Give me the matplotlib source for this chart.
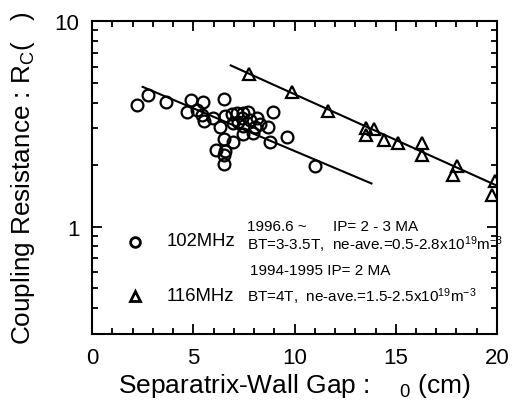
#!/usr/bin/env python3
import matplotlib
matplotlib.use("Agg")
import matplotlib.pyplot as plt

# 102 MHz data (circles)
gap_102 = [2.2, 2.75, 3.65, 4.89, 5.5, 4.68, 5.17, 5.42, 5.53, 5.99, 6.32,
           6.53, 6.57, 6.52, 6.12, 6.57, 6.53, 6.53, 6.95, 6.9, 7.14, 7.44,
           7.72, 6.98, 7.23, 7.47, 7.39, 7.8, 8.13, 8.05, 8.3, 7.97, 7.47,
           8.71, 8.92, 8.79, 9.61, 11.0]
rc_102 = [3.90, 4.36, 4.02, 4.12, 4.05, 3.59, 3.69, 3.49, 3.26, 3.36, 3.06,
          4.15, 3.46, 2.67, 2.36, 2.32, 2.23, 2.02, 2.59, 3.51, 3.55, 3.55,
          3.59, 3.18, 3.24, 3.10, 3.36, 3.30, 3.36, 3.06, 3.15, 2.84, 2.81,
          3.06, 3.59, 2.57, 2.74, 1.98]

# 116 MHz data (triangles)
gap_116 = [7.77, 9.86, 11.67, 13.53, 13.53, 13.93, 14.44, 15.1, 16.31,
           16.31, 18.01, 17.85, 19.9, 19.74]
rc_116 = [5.55, 4.52, 3.65, 3.01, 2.79, 2.99, 2.64, 2.55, 2.55, 2.22, 1.96,
          1.79, 1.67, 1.42]

# fitted lines (end points)
fit_102_x = [2.5, 13.8]
fit_102_y = [4.78, 1.62]
fit_116_x = [6.85, 20.0]
fit_116_y = [6.08, 1.58]

xticks = [0, 5, 10, 15, 20]
yticks = [1, 10]
yticklabels = ["1", "10"]


def main():
    plt.rcParams["font.family"] = ["Liberation Sans", "DejaVu Sans"]
    plt.rcParams["mathtext.fontset"] = "custom"
    plt.rcParams["mathtext.rm"] = "Liberation Sans"
    plt.rcParams["mathtext.default"] = "regular"

    fig = plt.figure(figsize=(5.12, 4.14), dpi=100)
    ax = fig.add_axes([0.1797, 0.1908, 0.791, 0.7561])

    ax.plot(gap_102, rc_102, "o", mfc="none", mec="black", ms=8.5, mew=1.6)
    ax.plot(gap_116, rc_116, "^", mfc="none", mec="black", ms=9, mew=1.6)
    ax.plot(fit_102_x, fit_102_y, color="black", lw=1.5)
    ax.plot(fit_116_x, fit_116_y, color="black", lw=1.5)

    ax.set_yscale("log")
    ax.set_xlim(0, 20)
    ax.set_ylim(0.3, 10)
    ax.set_xticks(xticks)
    ax.set_xticks(range(0, 21), minor=True)
    ax.set_yticks(yticks)
    ax.set_yticklabels(yticklabels)

    for s in ax.spines.values():
        s.set_linewidth(1.5)
    ax.tick_params(which="both", direction="in", top=True, right=True,
                   width=1.3, labelsize=16)
    ax.tick_params(which="major", length=7)
    ax.tick_params(which="minor", length=4, labelleft=False)
    ax.tick_params(axis="x", pad=9)
    ax.tick_params(axis="y", pad=9)

    ax.set_xlabel("Separatrix-Wall Gap :    $_0$ (cm)", fontsize=19)
    ax.set_ylabel("Coupling Resistance : R$_C$(   )", fontsize=18.8)
    ax.xaxis.set_label_coords(0.5, -0.118)
    ax.yaxis.set_label_coords(-0.135, 0.5)

    # legend-like annotations
    tr = ax.transAxes
    ax.plot([0.106], [0.295], "o", transform=tr, mfc="none", mec="black",
            ms=7, mew=2, clip_on=False)
    ax.plot([0.106], [0.122], "^", transform=tr, mfc="none", mec="black",
            ms=7, mew=2, clip_on=False)
    ax.text(0.185, 0.298, "102MHz", transform=tr, fontsize=13.3, va="center")
    ax.text(0.185, 0.122, "116MHz", transform=tr, fontsize=13.3, va="center")
    small = dict(transform=tr, fontsize=11, va="center")
    ax.text(0.383, 0.345, "1996.6 ~", **small)
    ax.text(0.595, 0.345, "IP= 2 - 3 MA", **small)
    ax.text(0.383, 0.29,
            "BT=3-3.5T,  ne-ave.=0.5-2.8x10$^{19}$m$^{-3}$", **small)
    ax.text(0.390, 0.205, "1994-1995 IP= 2 MA", **small)
    ax.text(0.383, 0.122,
            "BT=4T,  ne-ave.=1.5-2.5x10$^{19}$m$^{-3}$", **small)

    fig.savefig("out.png", dpi=100)
    plt.close(fig)


if __name__ == "__main__":
    main()
